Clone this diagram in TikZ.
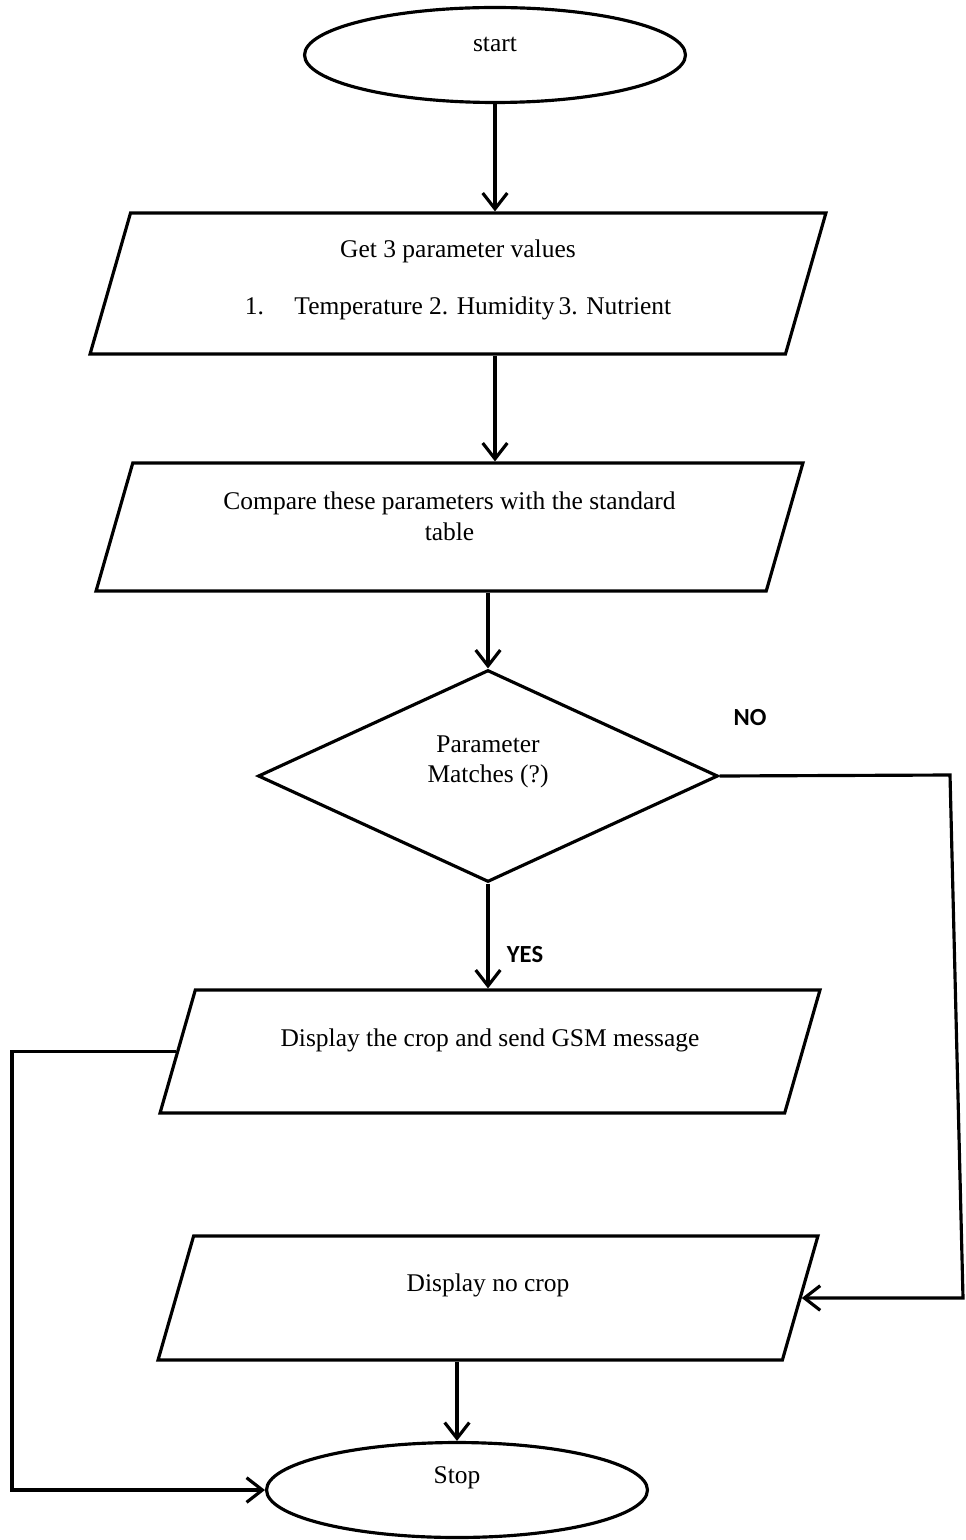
\documentclass[tikz,border=0pt]{standalone}
\usepackage{fontspec}
\setmainfont{Liberation Serif}
\newfontfamily\lblfont{Carlito}
\usetikzlibrary{shapes.geometric,arrows.meta}

\begin{document}
\begin{tikzpicture}[x=0.02cm,y=-0.02cm,line width=1.8pt,
	every node/.style={font=\fontsize{14.5}{18}\selectfont},
	term/.style={draw,ellipse,minimum width=7.62cm,minimum height=1.9cm},
	io/.style 2 args={draw,trapezium,trapezium left angle=74,trapezium right angle=106,inner xsep=#1,inner ysep=#2},
	test/.style={draw,diamond,minimum width=9.2cm,minimum height=4.24cm},
	txt/.style={align=center},
	yn/.style={font={\lblfont\bfseries\fontsize{14}{16}\selectfont}},
	arr/.style={-{Straight Barb[length=9pt,width=14pt]}}]
\useasboundingbox (0,0) rectangle (965,1540);
	% boxes, top to bottom
	\node[term,label={[txt,yshift=6pt]center:start}] (start) at (495,55) {};
	\node[io={6.551cm}{1.41cm},
		label={[txt,yshift=2pt]center:Get 3 parameter values\\[14pt]1.\hspace{1.2em}Temperature 2. Humidity\,3. Nutrient}] (get) at (458,283.5) {};
	\node[io={6.336cm}{1.28cm},
		label={[txt,yshift=6pt]center:Compare these parameters with the standard\\table}] (cmp) at (449.5,527) {};
	\node[test,label={[txt,yshift=8pt]center:Parameter\\[-1pt]Matches (?)}] (dec) at (488,776) {};
	\node[io={5.895cm}{1.23cm},
		label={[txt,yshift=6.5pt]center:Display the crop and send GSM message}] (disp) at (490,1051.5) {};
	\node[io={5.889cm}{1.24cm},
		label={[txt,yshift=7pt]center:Display no crop}] (nocrop) at (488,1298) {};
	\node[term,label={[txt,yshift=7pt]center:Stop}] (stop) at (457,1490) {};
	% branch labels
	\node[yn] (no) at (750,718) {NO};
	\node[yn] (yes) at (525,955) {YES};
	% bends of the side lines
	\coordinate (nr) at (950,775);
	\coordinate (nb) at (963,1298);
	\coordinate (lt) at (12,1046);
	% connectors
	\draw[arr] (start.south) -- (start |- get.north);
	\draw[arr] (start |- get.south) -- (start |- cmp.north);
	\draw[arr] (dec |- cmp.south) -- (dec.north);
	\draw[arr] (dec.south) -- (dec |- disp.north);
	\draw[arr] (dec.east) -- (nr) -- (nb) -- (nocrop.east);
	\draw[arr] (disp.west) -- (disp.west -| lt) -- (lt |- stop.west) -- (stop.west);
	\draw[arr] (stop |- nocrop.south) -- (stop.north);
\end{tikzpicture}
\end{document}
